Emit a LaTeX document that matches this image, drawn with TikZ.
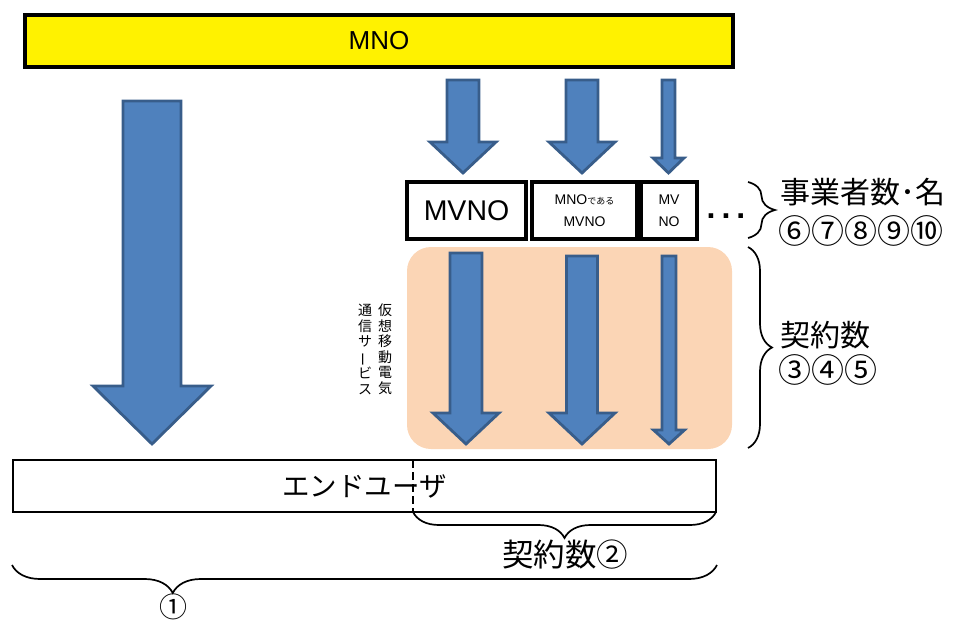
\documentclass[tikz,border=0pt]{standalone}
\usepackage{fontspec}
\usepackage{graphicx}
\setmainfont{Liberation Sans}
\newfontfamily\jp{Noto Sans CJK JP}
\usetikzlibrary{decorations.pathreplacing}
\definecolor{setaazul}{RGB}{79,129,189}
\definecolor{bordaazul}{RGB}{56,93,138}
\definecolor{pessego}{RGB}{251,213,181}
\tikzset{
  seta/.style={fill=setaazul, draw=bordaazul, line width=2.8pt, line join=miter},
  caixa/.style={draw=black, line width=3.2pt, fill=white, inner sep=0pt},
  chave/.style={decorate, decoration={brace, amplitude=#1}, line width=1.7pt},
  rotulo/.style={font=\jp\fontsize{30}{32}\selectfont, inner sep=0pt},
  circulos/.style={font=\jp\fontsize{33}{34}\selectfont, inner sep=0pt},
}
% seta de bloco: centro x, topo, meia largura, base da ponta, meia ponta, ponta
\newcommand{\setabloco}[6]{%
  \filldraw[seta] (#1-#3,#2) -- (#1+#3,#2) -- (#1+#3,#4) -- (#1+#5,#4)
    -- (#1,#6) -- (#1-#5,#4) -- (#1-#3,#4) -- cycle;}

\begin{document}
\begin{tikzpicture}[x=1pt, y=-1pt]
  \useasboundingbox (0,0) rectangle (953,621);
  % MNO
  \node[caixa, fill=yellow, minimum width=708, minimum height=52,
        font=\fontsize{26}{28}\selectfont] (mno) at (379,41) {MNO};
  % area dos contratos
  \fill[pessego, rounded corners=24pt] (407,247) rectangle (732,449);
  % setas
  \setabloco{152}{101}{29}{386}{59}{444}
  \setabloco{463}{80}{16}{142}{33}{173}
  \setabloco{582}{80}{16}{142}{33}{173}
  \setabloco{668.5}{80}{6.5}{158}{15.5}{173}
  \setabloco{466}{253}{16}{413}{33}{444}
  \setabloco{582}{256}{15.5}{413}{33}{444}
  \setabloco{669}{256}{7}{430}{15.5}{444}
  % operadoras
  \node[caixa, minimum width=119, minimum height=57,
        font=\fontsize{28.5}{30}\selectfont] (mvno) at (466.5,210.5) {MVNO};
  \node[caixa, minimum width=105, minimum height=57, align=center,
        font=\fontsize{14}{22}\selectfont] (mnomvno) at (584.5,210.5)
        {MNO{\jp\fontsize{9}{9}\selectfont である}\\MVNO};
  \node[caixa, minimum width=56, minimum height=57, align=center,
        font=\fontsize{14}{22}\selectfont] (mv) at (669,210.5) {MV\\NO};
  \node[font=\bfseries\fontsize{32}{32}\selectfont, inner sep=0pt, anchor=base]
        (pontos) at (726,218) {.\hspace{6pt}.\hspace{6pt}.};
  % texto vertical
  \node[font=\jp\fontsize{14}{15.5}\selectfont, align=center, anchor=north,
        inner sep=0pt] (vt1) at (385,304) {仮\\想\\移\\動\\電\\気};
  \node[font=\jp\fontsize{14}{15.5}\selectfont, align=center, anchor=north,
        inner sep=0pt] (vt2) at (365,304)
        {通\\信\\サ\\\rotatebox[origin=c]{90}{ー}\\ビ\\ス};
  % usuario final
  \node[caixa, line width=2.8pt, minimum width=703, minimum height=52,
        font=\jp\fontsize{27.5}{29}\selectfont] (usuario) at (364.5,486) {エンドユーザ};
  \draw[line width=2.2pt, dash pattern=on 8pt off 4pt] (413,460) -- (413,512);
  % chaves
  \draw[chave=26, decoration={mirror}] (413,512) -- (716,512);
  \draw[chave=28, decoration={mirror, aspect=0.228}] (12,565) -- (717,565);
  \draw[chave=27] (748,182) -- (748,238);
  \draw[chave=24] (748,247) -- (748,448);
  % rotulos
  \node[rotulo, anchor=west] (nomes) at (780,192) {事業者数･名};
  \node[circulos, anchor=west] (nums1) at (778,231) {⑥⑦⑧⑨⑩};
  \node[rotulo, anchor=west] (contr) at (780,335) {契約数};
  \node[circulos, anchor=west] (nums2) at (778,370) {③④⑤};
  \node[rotulo, font=\jp\fontsize{31.5}{33}\selectfont] (contr2) at (565,555) {契約数②};
  \node[rotulo, font=\jp\fontsize{28}{30}\selectfont] (um) at (173,607) {①};
\end{tikzpicture}
\end{document}
